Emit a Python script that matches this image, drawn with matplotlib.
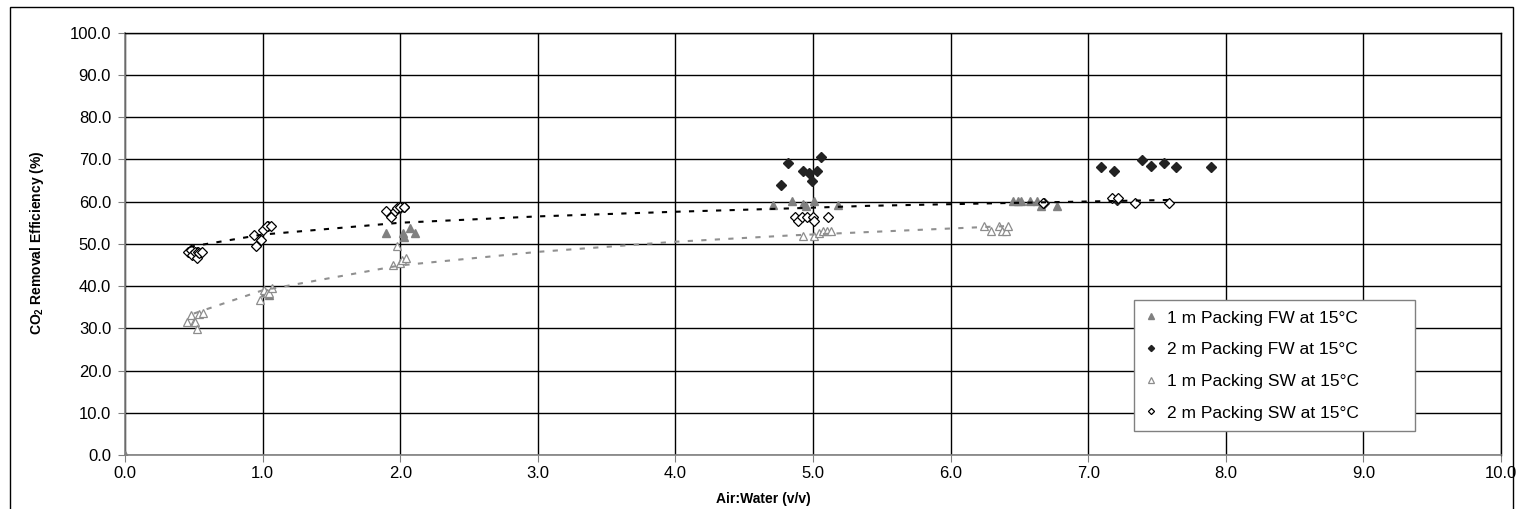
"""CO2 removal efficiency vs air:water ratio for packed columns (FW / SW)."""

import matplotlib

matplotlib.use("Agg")
import matplotlib.pyplot as plt
from matplotlib.patches import Rectangle

plt.rcParams["font.family"] = ["Liberation Sans", "DejaVu Sans"]
plt.rcParams["mathtext.fontset"] = "custom"
plt.rcParams["mathtext.rm"] = "Liberation Sans"
plt.rcParams["mathtext.bf"] = "Liberation Sans:bold"

# 1 m packing, fresh water
fw1_x = [0.0, 1.02, 1.05, 1.90, 2.02, 2.03, 2.07, 2.11,
         4.71, 4.85, 4.93, 4.95, 5.01, 5.18,
         6.45, 6.49, 6.51, 6.58, 6.63, 6.66, 6.77]
fw1_y = [0.0, 38.5, 38.0, 52.5, 52.5, 51.7, 53.7, 52.6,
         59.2, 60.1, 59.4, 59.0, 60.1, 59.2,
         60.1, 60.1, 60.1, 60.1, 60.1, 59.0, 59.0]

# 2 m packing, fresh water
fw2_x = [0.50, 0.52, 1.04, 2.00, 2.03,
         4.77, 4.82, 4.93, 4.97, 4.99, 5.03, 5.06,
         6.68, 7.09, 7.19, 7.21, 7.39, 7.46, 7.55, 7.64, 7.89]
fw2_y = [47.5, 48.0, 54.2, 58.6, 58.8,
         64.0, 69.1, 67.2, 66.7, 65.0, 67.3, 70.6,
         59.6, 68.3, 67.3, 60.5, 69.9, 68.5, 69.1, 68.3, 68.3]

# 1 m packing, sea water
sw1_x = [0.45, 0.48, 0.50, 0.51, 0.52, 0.54, 0.57,
         0.98, 1.01, 1.03, 1.05, 1.07,
         1.95, 1.98, 2.00, 2.01, 2.04,
         4.93, 5.01, 5.04, 5.07, 5.10, 5.13,
         6.24, 6.29, 6.35, 6.37, 6.40, 6.42]
sw1_y = [31.6, 33.2, 31.6, 31.6, 29.8, 33.4, 33.6,
         36.7, 39.1, 38.3, 38.3, 39.5,
         45.0, 49.5, 45.5, 46.2, 46.6,
         51.9, 51.9, 52.6, 53.1, 53.1, 53.1,
         54.2, 53.1, 54.2, 53.1, 53.1, 54.2]

# 2 m packing, sea water
sw2_x = [0.46, 0.48, 0.49, 0.51, 0.52, 0.53, 0.54, 0.56,
         0.94, 0.95, 0.99, 1.00, 1.03, 1.06,
         1.90, 1.93, 1.96, 1.98, 2.00, 2.03,
         4.87, 4.89, 4.92, 4.96, 5.00, 5.01, 5.11,
         6.67, 7.17, 7.22, 7.34, 7.59]
sw2_y = [48.1, 48.5, 47.4, 48.1, 46.6, 48.1, 47.8, 48.1,
         52.1, 49.6, 50.9, 53.3, 54.2, 54.2,
         57.8, 56.4, 57.8, 58.4, 58.8, 58.8,
         56.4, 55.4, 56.4, 56.4, 56.4, 55.4, 56.4,
         59.7, 60.8, 60.8, 59.6, 59.6]

# trendlines
trend2_x = [0.47, 1.0, 2.0, 3.0, 4.0, 4.84, 5.4, 6.46, 7.6]
trend2_y = [49.3, 52.2, 55.0, 56.5, 57.6, 58.4, 59.0, 59.7, 60.4]
trend1_x = [0.50, 1.0, 2.0, 3.0, 4.0, 4.84, 6.4]
trend1_y = [33.5, 39.0, 44.9, 48.1, 50.5, 52.0, 54.2]

x_ticks = [i * 1.0 for i in range(11)]
y_ticks = [i * 10.0 for i in range(11)]

fig = plt.figure(figsize=(15.24, 5.09), dpi=100)
ax = fig.add_axes([125 / 1524, 1 - 455 / 509, 1376 / 1524, 422.3 / 509])

# outer chart border
fig.patches.append(Rectangle((10 / 1524, -0.05), 1503 / 1524, 1.05 - 7 / 509,
                             transform=fig.transFigure, fill=False,
                             edgecolor="black", linewidth=1.0))

ax.plot(fw1_x, fw1_y, linestyle="none", marker="^", ms=6,
        color="#808080", mec="#808080", label="1 m Packing FW at 15°C", zorder=3)
ax.plot(fw2_x, fw2_y, linestyle="none", marker="D", ms=4.8,
        color="#222222", mec="#222222", label="2 m Packing FW at 15°C", zorder=3)
ax.plot(sw1_x, sw1_y, linestyle="none", marker="^", ms=6, mfc="white",
        mec="#8c8c8c", mew=0.9, label="1 m Packing SW at 15°C", zorder=4)
ax.plot(sw2_x, sw2_y, linestyle="none", marker="D", ms=4.8, mfc="white",
        mec="black", mew=0.9, label="2 m Packing SW at 15°C", zorder=4)

ax.plot(trend2_x, trend2_y, color="black", lw=1.5,
        linestyle=(0, (2.5, 4)), zorder=5)
ax.plot(trend1_x, trend1_y, color="#909090", lw=1.5,
        linestyle=(0, (2.5, 4)), zorder=5)

ax.set_xlim(0, 10)
ax.set_ylim(0, 100)
ax.set_xticks(x_ticks)
ax.set_yticks(y_ticks)
ax.set_xticklabels([f"{t:.1f}" for t in x_ticks])
ax.set_yticklabels([f"{t:.1f}" for t in y_ticks])
ax.tick_params(axis="both", labelsize=12, color="#808080", length=5)
ax.tick_params(axis="y", pad=5)
ax.tick_params(axis="x", pad=3)
ax.grid(True, color="black", linewidth=1.0, zorder=0)
ax.set_axisbelow(True)
for side in ("left", "bottom"):
    ax.spines[side].set_color("#808080")
    ax.spines[side].set_linewidth(1.2)
for side in ("top", "right"):
    ax.spines[side].set_color("black")
    ax.spines[side].set_linewidth(1.0)

fig.text(37 / 1524, 1 - 243 / 509, r"CO$_\mathbf{2}$ Removal Efficiency (%)",
         rotation=90, ha="center", va="center", fontsize=10, fontweight="bold")
fig.text(763 / 1524, 1 - 499 / 509, "Air:Water (v/v)",
         ha="center", va="center", fontsize=10, fontweight="bold")

leg = ax.legend(loc="lower left", bbox_to_anchor=(0.733, 0.057, 0.2045, 0.317),
                mode="expand", fontsize=12.5, frameon=True, fancybox=False,
                edgecolor="#808080", framealpha=1.0, borderpad=0.6,
                labelspacing=0.95, handlelength=0.8, handletextpad=0.5,
                borderaxespad=0.0, markerscale=0.65)
leg.get_frame().set_linewidth(1.0)
leg.set_zorder(10)

fig.savefig("out.png", dpi=100)
